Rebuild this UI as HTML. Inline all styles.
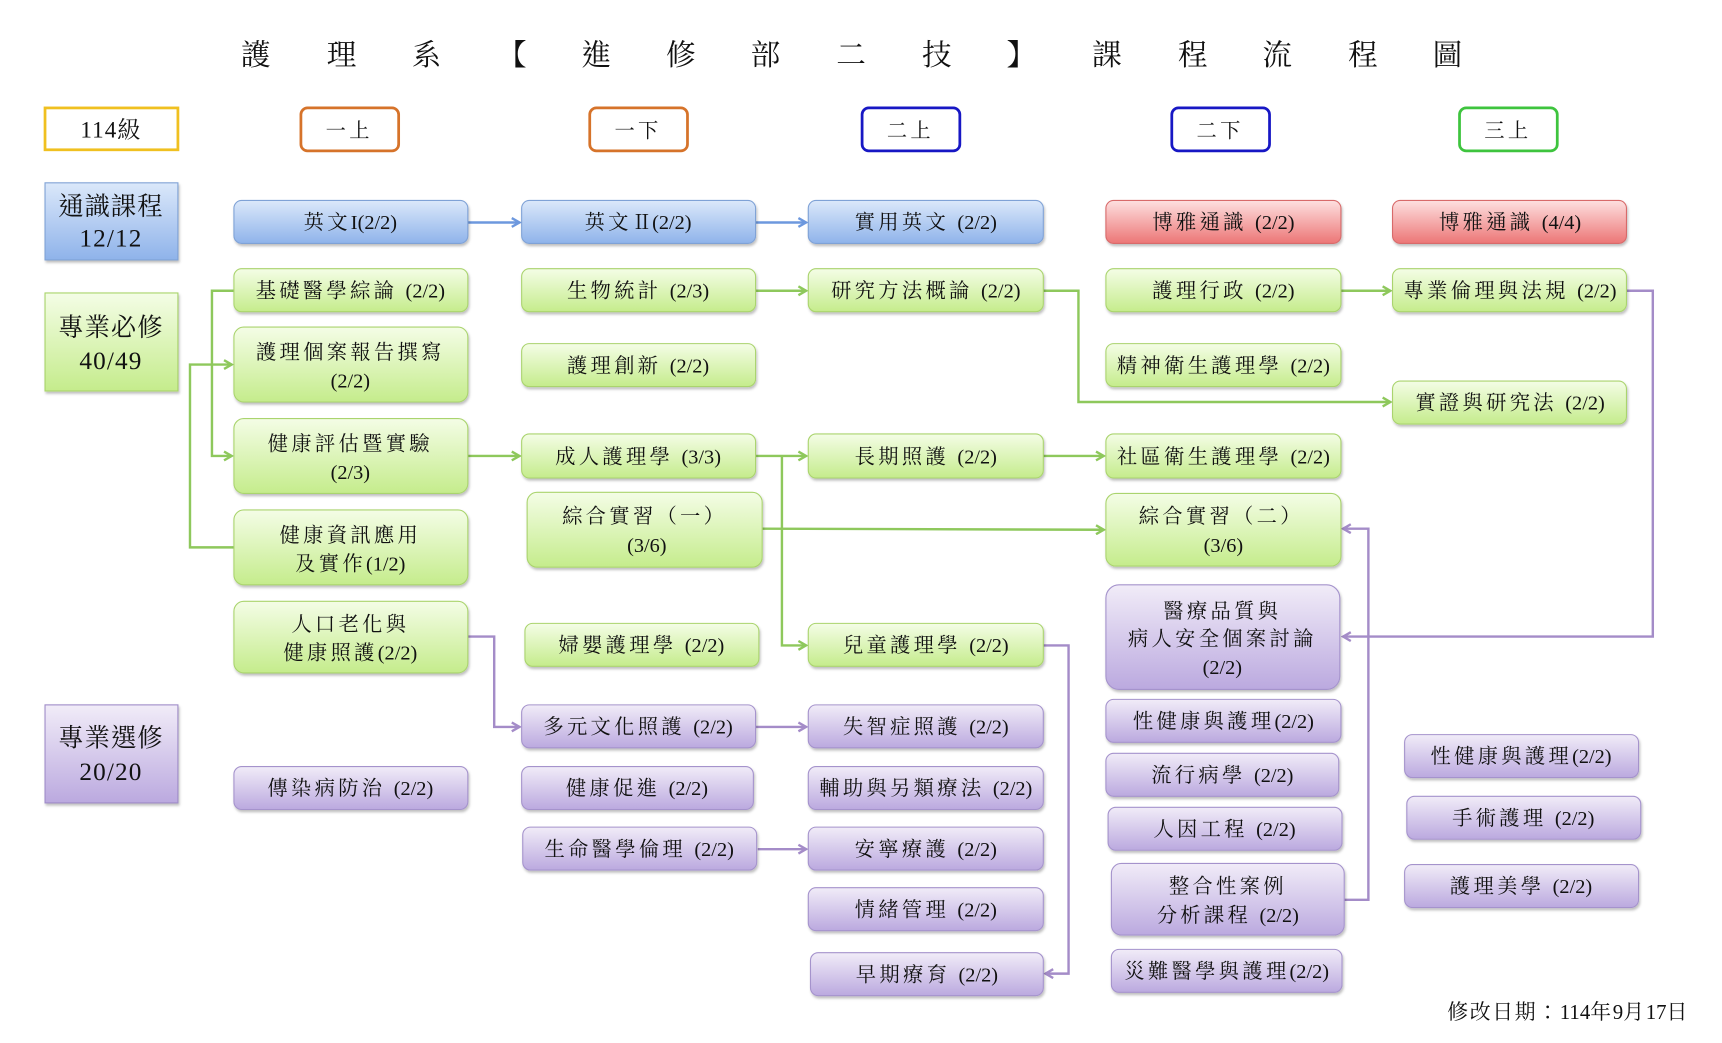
<!DOCTYPE html>
<html><head><meta charset="utf-8"><style>
html,body{margin:0;padding:0;background:#fff;}
svg{display:block;}
text{font-family:"Liberation Serif","Noto Serif CJK TC","Noto Serif CJK SC",serif;fill:#111;}
.t{font-size:18.5px;text-anchor:middle;letter-spacing:3px;}
.n{letter-spacing:0;}
.h{font-size:27px;text-anchor:middle;}
.c{font-size:23px;text-anchor:middle;letter-spacing:1px;}
</style></head><body>
<svg width="1722" height="1043" viewBox="0 0 1568 947" preserveAspectRatio="none" xmlns="http://www.w3.org/2000/svg">
<defs>
<linearGradient id="gb" x1="0" y1="0" x2="0" y2="1"><stop offset="0" stop-color="#dbe8fa"/><stop offset="1" stop-color="#8fb3ea"/></linearGradient>
<linearGradient id="gg" x1="0" y1="0" x2="0" y2="1"><stop offset="0" stop-color="#f4fde6"/><stop offset="1" stop-color="#c5ec8c"/></linearGradient>
<linearGradient id="gp" x1="0" y1="0" x2="0" y2="1"><stop offset="0" stop-color="#f1ecf8"/><stop offset="1" stop-color="#bba9df"/></linearGradient>
<linearGradient id="gr" x1="0" y1="0" x2="0" y2="1"><stop offset="0" stop-color="#fde0e0"/><stop offset="1" stop-color="#ec7676"/></linearGradient>
<filter id="sh" x="-5%" y="-10%" width="110%" height="130%"><feDropShadow dx="1" dy="2" stdDeviation="1.3" flood-color="#000" flood-opacity="0.25"/></filter>
<marker id="ag" markerWidth="10" markerHeight="10" refX="8" refY="5" orient="auto" markerUnits="userSpaceOnUse"><path d="M1,1 L8,5 L1,9" fill="none" stroke="#8ec85c" stroke-width="2.2"/></marker>
<marker id="ab" markerWidth="10" markerHeight="10" refX="8" refY="5" orient="auto" markerUnits="userSpaceOnUse"><path d="M1,1 L8,5 L1,9" fill="none" stroke="#6d98de" stroke-width="2.2"/></marker>
<marker id="ap" markerWidth="10" markerHeight="10" refX="8" refY="5" orient="auto" markerUnits="userSpaceOnUse"><path d="M1,1 L8,5 L1,9" fill="none" stroke="#a48cc8" stroke-width="2.2"/></marker>
</defs>

<g class="h">
<text x="233" y="59">護</text><text x="311" y="59">理</text><text x="388" y="59">系</text><text x="466" y="59">【</text><text x="543" y="59">進</text><text x="620" y="59">修</text><text x="697" y="59">部</text><text x="775" y="59">二</text><text x="853" y="59">技</text><text x="930" y="59">】</text><text x="1008" y="59">課</text><text x="1086" y="59">程</text><text x="1163" y="59">流</text><text x="1241" y="59">程</text><text x="1318" y="59">圖</text>
</g>

<rect x="41" y="98" width="121" height="38" fill="#fff" stroke="#f0c020" stroke-width="2.5"/>
<text class="c" x="101" y="125" style="font-size:21px">114級</text>
<rect x="274" y="98" width="89" height="39" rx="6" fill="#fff" stroke="#d6732a" stroke-width="2.5"/>
<text class="t" x="318" y="125">一上</text>
<rect x="537" y="98" width="89" height="39" rx="6" fill="#fff" stroke="#d6732a" stroke-width="2.5"/>
<text class="t" x="581" y="125">一下</text>
<rect x="785" y="98" width="89" height="39" rx="6" fill="#fff" stroke="#1717c4" stroke-width="2.5"/>
<text class="t" x="829" y="125">二上</text>
<rect x="1067" y="98" width="89" height="39" rx="6" fill="#fff" stroke="#1717c4" stroke-width="2.5"/>
<text class="t" x="1111" y="125">二下</text>
<rect x="1329" y="98" width="89" height="39" rx="6" fill="#fff" stroke="#3ec43e" stroke-width="2.5"/>
<text class="t" x="1373" y="125">三上</text>

<rect x="41" y="166" width="121" height="70" fill="url(#gb)" stroke="#7fa2d6" filter="url(#sh)"/>
<text class="c" x="101" y="195">通識課程</text><text class="c" x="101" y="224">12/12</text>
<rect x="41" y="266" width="121" height="89" fill="url(#gg)" stroke="#a8d36a" filter="url(#sh)"/>
<text class="c" x="101" y="305">專業必修</text><text class="c" x="101" y="335">40/49</text>
<rect x="41" y="640" width="121" height="89" fill="url(#gp)" stroke="#9f8cc8" filter="url(#sh)"/>
<text class="c" x="101" y="678">專業選修</text><text class="c" x="101" y="708">20/20</text>

<g fill="none" stroke-width="2.2">
<path d="M426,202 H473" stroke="#6d98de" marker-end="url(#ab)"/>
<path d="M688,202 H734" stroke="#6d98de" marker-end="url(#ab)"/>
<g stroke="#8ec85c">
<path d="M688,264 H734" marker-end="url(#ag)"/>
<path d="M1221,264 H1266" marker-end="url(#ag)"/>
<path d="M950,264 H982 V365 H1266" marker-end="url(#ag)"/>
<path d="M426,414 H473" marker-end="url(#ag)"/>
<path d="M688,414 H734" marker-end="url(#ag)"/>
<path d="M712,414 V586 H734" marker-end="url(#ag)"/>
<path d="M950,414 H1005" marker-end="url(#ag)"/>
<path d="M694,480 L1005,481" marker-end="url(#ag)"/>
<path d="M213,264 H193 V414 H211" marker-end="url(#ag)"/>
<path d="M213,497 H173 V331 H211" marker-end="url(#ag)"/>
</g>
<g stroke="#a48cc8">
<path d="M426,578 H450 V660 H473" marker-end="url(#ap)"/>
<path d="M688,660 H734" marker-end="url(#ap)"/>
<path d="M690,771 H734" marker-end="url(#ap)"/>
<path d="M950,586 H973 V884 H952" marker-end="url(#ap)"/>
<path d="M1481,264 H1505 V578 H1223" marker-end="url(#ap)"/>
<path d="M1224,817 H1246 V480 H1223" marker-end="url(#ap)"/>
</g>
</g>

<g filter="url(#sh)">
<rect x="213" y="182" width="213" height="39" rx="7" fill="url(#gb)" stroke="#7fa2d6"/>
<rect x="475" y="182" width="213" height="39" rx="7" fill="url(#gb)" stroke="#7fa2d6"/>
<rect x="736" y="182" width="214" height="39" rx="7" fill="url(#gb)" stroke="#7fa2d6"/>
<rect x="1007" y="182" width="214" height="39" rx="7" fill="url(#gr)" stroke="#d86a6a"/>
<rect x="1268" y="182" width="213" height="39" rx="7" fill="url(#gr)" stroke="#d86a6a"/>
</g>
<g class="t">
<text x="319" y="208">英文<tspan class="n">I(2/2)</tspan></text>
<text x="581" y="208">英文<tspan class="n">Ⅱ(2/2)</tspan></text>
<text x="843" y="208">實用英文 <tspan class="n">(2/2)</tspan></text>
<text x="1114" y="208">博雅通識 <tspan class="n">(2/2)</tspan></text>
<text x="1375" y="208">博雅通識 <tspan class="n">(4/4)</tspan></text>
</g>

<g filter="url(#sh)" fill="url(#gg)" stroke="#aad46e">
<rect x="213" y="244" width="213" height="39" rx="7"/>
<rect x="213" y="297" width="213" height="68" rx="9"/>
<rect x="213" y="380" width="213" height="68" rx="9"/>
<rect x="213" y="463" width="213" height="68" rx="9"/>
<rect x="213" y="546" width="213" height="65" rx="9"/>
<rect x="475" y="244" width="213" height="39" rx="7"/>
<rect x="475" y="312" width="213" height="39" rx="7"/>
<rect x="475" y="394" width="213" height="40" rx="7"/>
<rect x="480" y="447" width="214" height="68" rx="9"/>
<rect x="478" y="566" width="213" height="39" rx="7"/>
<rect x="736" y="244" width="214" height="39" rx="7"/>
<rect x="736" y="394" width="214" height="40" rx="7"/>
<rect x="736" y="566" width="214" height="39" rx="7"/>
<rect x="1007" y="244" width="214" height="39" rx="7"/>
<rect x="1007" y="312" width="214" height="39" rx="7"/>
<rect x="1007" y="394" width="214" height="40" rx="7"/>
<rect x="1007" y="448" width="214" height="66" rx="9"/>
<rect x="1268" y="244" width="213" height="39" rx="7"/>
<rect x="1268" y="346" width="213" height="39" rx="7"/>
</g>
<g class="t">
<text x="319" y="270">基礎醫學綜論 <tspan class="n">(2/2)</tspan></text>
<text x="319" y="326">護理個案報告撰寫</text><text x="319" y="352" class="t n">(2/2)</text>
<text x="319" y="409">健康評估暨實驗</text><text x="319" y="435" class="t n">(2/3)</text>
<text x="319" y="492">健康資訊應用</text><text x="319" y="518">及實作<tspan class="n">(1/2)</tspan></text>
<text x="319" y="573">人口老化與</text><text x="319" y="599">健康照護<tspan class="n">(2/2)</tspan></text>
<text x="581" y="270">生物統計 <tspan class="n">(2/3)</tspan></text>
<text x="581" y="338">護理創新 <tspan class="n">(2/2)</tspan></text>
<text x="581" y="421">成人護理學 <tspan class="n">(3/3)</tspan></text>
<text x="587" y="475">綜合實習（一）</text><text x="589" y="501" class="t n">(3/6)</text>
<text x="584" y="592">婦嬰護理學 <tspan class="n">(2/2)</tspan></text>
<text x="843" y="270">研究方法概論 <tspan class="n">(2/2)</tspan></text>
<text x="843" y="421">長期照護 <tspan class="n">(2/2)</tspan></text>
<text x="843" y="592">兒童護理學 <tspan class="n">(2/2)</tspan></text>
<text x="1114" y="270">護理行政 <tspan class="n">(2/2)</tspan></text>
<text x="1114" y="338">精神衛生護理學 <tspan class="n">(2/2)</tspan></text>
<text x="1114" y="421">社區衛生護理學 <tspan class="n">(2/2)</tspan></text>
<text x="1112" y="475">綜合實習（二）</text><text x="1114" y="501" class="t n">(3/6)</text>
<text x="1375" y="270">專業倫理與法規 <tspan class="n">(2/2)</tspan></text>
<text x="1375" y="372">實證與研究法 <tspan class="n">(2/2)</tspan></text>
</g>

<g filter="url(#sh)" fill="url(#gp)" stroke="#a593cc">
<rect x="213" y="696" width="213" height="39" rx="7"/>
<rect x="475" y="640" width="213" height="39" rx="7"/>
<rect x="475" y="696" width="211" height="39" rx="7"/>
<rect x="476" y="751" width="213" height="39" rx="7"/>
<rect x="736" y="640" width="214" height="39" rx="7"/>
<rect x="736" y="696" width="214" height="39" rx="7"/>
<rect x="736" y="751" width="214" height="39" rx="7"/>
<rect x="736" y="806" width="214" height="39" rx="7"/>
<rect x="738" y="865" width="212" height="39" rx="7"/>
<rect x="1007" y="531" width="213" height="95" rx="12"/>
<rect x="1007" y="635" width="214" height="39" rx="7"/>
<rect x="1007" y="684" width="212" height="39" rx="7"/>
<rect x="1009" y="733" width="213" height="39" rx="7"/>
<rect x="1012" y="784" width="212" height="65" rx="9"/>
<rect x="1012" y="862" width="210" height="39" rx="7"/>
<rect x="1279" y="667" width="213" height="39" rx="7"/>
<rect x="1281" y="723" width="213" height="39" rx="7"/>
<rect x="1279" y="785" width="213" height="39" rx="7"/>
</g>
<g class="t">
<text x="319" y="722">傳染病防治 <tspan class="n">(2/2)</tspan></text>
<text x="581" y="666">多元文化照護 <tspan class="n">(2/2)</tspan></text>
<text x="580" y="722">健康促進 <tspan class="n">(2/2)</tspan></text>
<text x="582" y="777">生命醫學倫理 <tspan class="n">(2/2)</tspan></text>
<text x="843" y="666">失智症照護 <tspan class="n">(2/2)</tspan></text>
<text x="843" y="722">輔助與另類療法 <tspan class="n">(2/2)</tspan></text>
<text x="843" y="777">安寧療護 <tspan class="n">(2/2)</tspan></text>
<text x="843" y="832">情緒管理 <tspan class="n">(2/2)</tspan></text>
<text x="844" y="891">早期療育 <tspan class="n">(2/2)</tspan></text>
<text x="1113" y="561">醫療品質與</text><text x="1113" y="586">病人安全個案討論</text><text x="1113" y="612" class="t n">(2/2)</text>
<text x="1114" y="661">性健康與護理<tspan class="n">(2/2)</tspan></text>
<text x="1113" y="710">流行病學 <tspan class="n">(2/2)</tspan></text>
<text x="1115" y="759">人因工程 <tspan class="n">(2/2)</tspan></text>
<text x="1118" y="811">整合性案例</text><text x="1118" y="837">分析課程 <tspan class="n">(2/2)</tspan></text>
<text x="1117" y="888">災難醫學與護理<tspan class="n">(2/2)</tspan></text>
<text x="1385" y="693">性健康與護理<tspan class="n">(2/2)</tspan></text>
<text x="1387" y="749">手術護理 <tspan class="n">(2/2)</tspan></text>
<text x="1385" y="811">護理美學 <tspan class="n">(2/2)</tspan></text>
</g>

<text x="1538" y="925" style="font-size:19px;text-anchor:end;letter-spacing:1.5px">修改日期：<tspan class="n">114</tspan>年<tspan class="n">9</tspan>月<tspan class="n">17</tspan>日</text>
</svg>
</body></html>
